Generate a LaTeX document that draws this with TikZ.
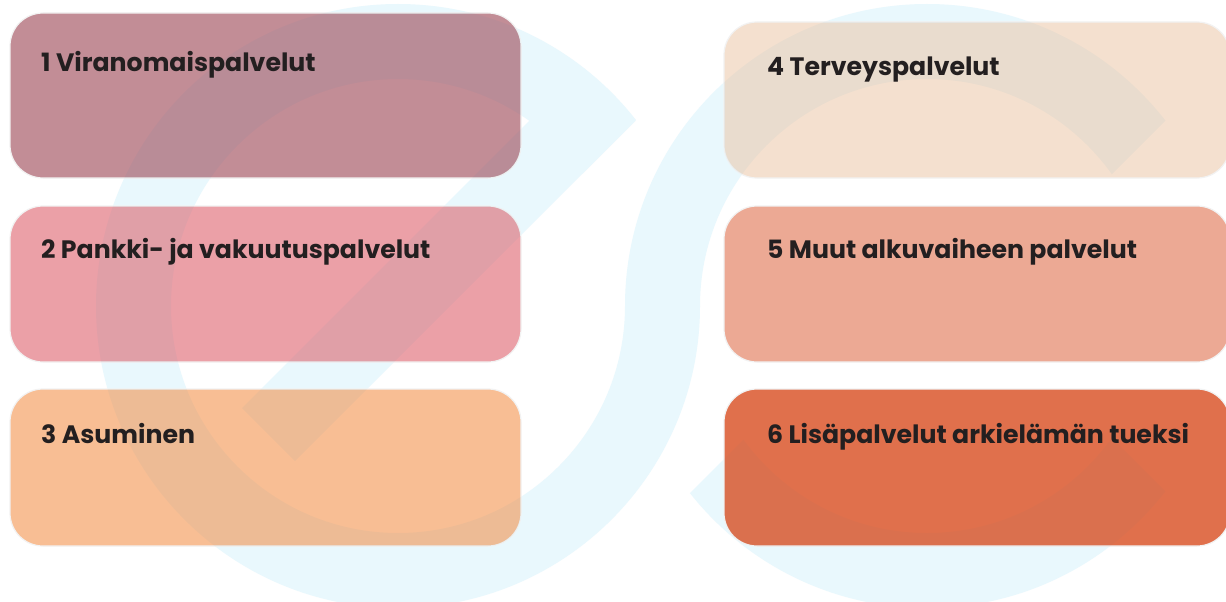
\documentclass[tikz,border=0pt]{standalone}
\usepackage{fontspec}
\setmainfont{Poppins}
\definecolor{logocyan}{HTML}{E9F8FD}
\definecolor{logotint}{RGB}{0,140,185}
\definecolor{cA}{HTML}{C28D96}
\definecolor{cB}{HTML}{EBA0A7}
\definecolor{cC}{HTML}{F8BE94}
\definecolor{cD}{HTML}{F4E0CF}
\definecolor{cE}{HTML}{ECA994}
\definecolor{cF}{HTML}{E0704C}
\definecolor{txt}{HTML}{231F20}
\newcommand\logopaths[1]{%
  % left ring: full ring minus the upper-right wedge
  \begin{scope}
    \clip (-10,-10) -- (766,-10) -- (450,306) -- (1300,306) -- (1300,700) -- (-10,700) -- cycle;
    \fill[#1, even odd rule] (398,306) circle[radius=302] (398,306) circle[radius=227];
  \end{scope}
  % left diagonal bar
  \fill[#1] (242,408) -- (532,118) -- (635,121) -- (295,461) -- cycle;
  % right ring, upper arc
  \begin{scope}
    \clip (600,-10) -- (1296,-10) -- (980,306) -- (600,306) -- cycle;
    \fill[#1, even odd rule] (927,306) circle[radius=302] (927,306) circle[radius=227];
  \end{scope}
  % right ring, lower arc
  \begin{scope}
    \clip (928.5,254.5) -- (483,700) -- (1374,700) -- cycle;
    \fill[#1, even odd rule] (927,306) circle[radius=302] (927,306) circle[radius=227];
  \end{scope}
}
\tikzset{
  card/.style={rounded corners=33pt, inner sep=0pt, outer sep=0pt, draw=black!5, line width=1.2pt},
  label/.style={anchor=base west, inner sep=0pt, text=txt, font=\fontsize{25.2}{30}\selectfont\bfseries}
}
\begin{document}
\begin{tikzpicture}[x=1pt,y=-1pt]
\useasboundingbox (0,0) rectangle (1226,602);
\fill[white] (0,0) rectangle (1226,602);
\logopaths{logocyan}

\node[card, fill=cA, minimum width=511pt, minimum height=165pt] (b1) at (265.5,95.5) {};
\node[card, fill=cB, minimum width=511pt, minimum height=156pt] (b2) at (265.5,284) {};
\node[card, fill=cC, minimum width=511pt, minimum height=157pt] (b3) at (265.5,467.5) {};
\node[card, fill=cD, minimum width=506pt, minimum height=156pt] (b4) at (977,100) {};
\node[card, fill=cE, minimum width=506pt, minimum height=156pt] (b5) at (977,284) {};
\node[card, fill=cF, minimum width=506pt, minimum height=157pt] (b6) at (977,467.5) {};

\begin{scope}
  \clip[rounded corners=33pt]
    (b1.north west) rectangle (b1.south east)
    (b2.north west) rectangle (b2.south east)
    (b3.north west) rectangle (b3.south east)
    (b4.north west) rectangle (b4.south east)
    (b5.north west) rectangle (b5.south east);
  \logopaths{logotint, fill opacity=0.045}
\end{scope}
\begin{scope}
  \clip[rounded corners=33pt] (b6.north west) rectangle (b6.south east);
  \logopaths{logotint, fill opacity=0.025}
\end{scope}

\node[label] (t1) at (41,71) {1 Viranomaispalvelut};
\node[label] (t2) at (41,258) {2 Pankki- ja vakuutuspalvelut};
\node[label] (t3) at (41,443) {3 Asuminen};
\node[label] (t4) at (767,75) {4 Terveyspalvelut};
\node[label] (t5) at (767,258) {5 Muut alkuvaiheen palvelut};
\node[label] (t6) at (767,443) {6 Lisäpalvelut arkielämän tueksi};
\end{tikzpicture}
\end{document}
